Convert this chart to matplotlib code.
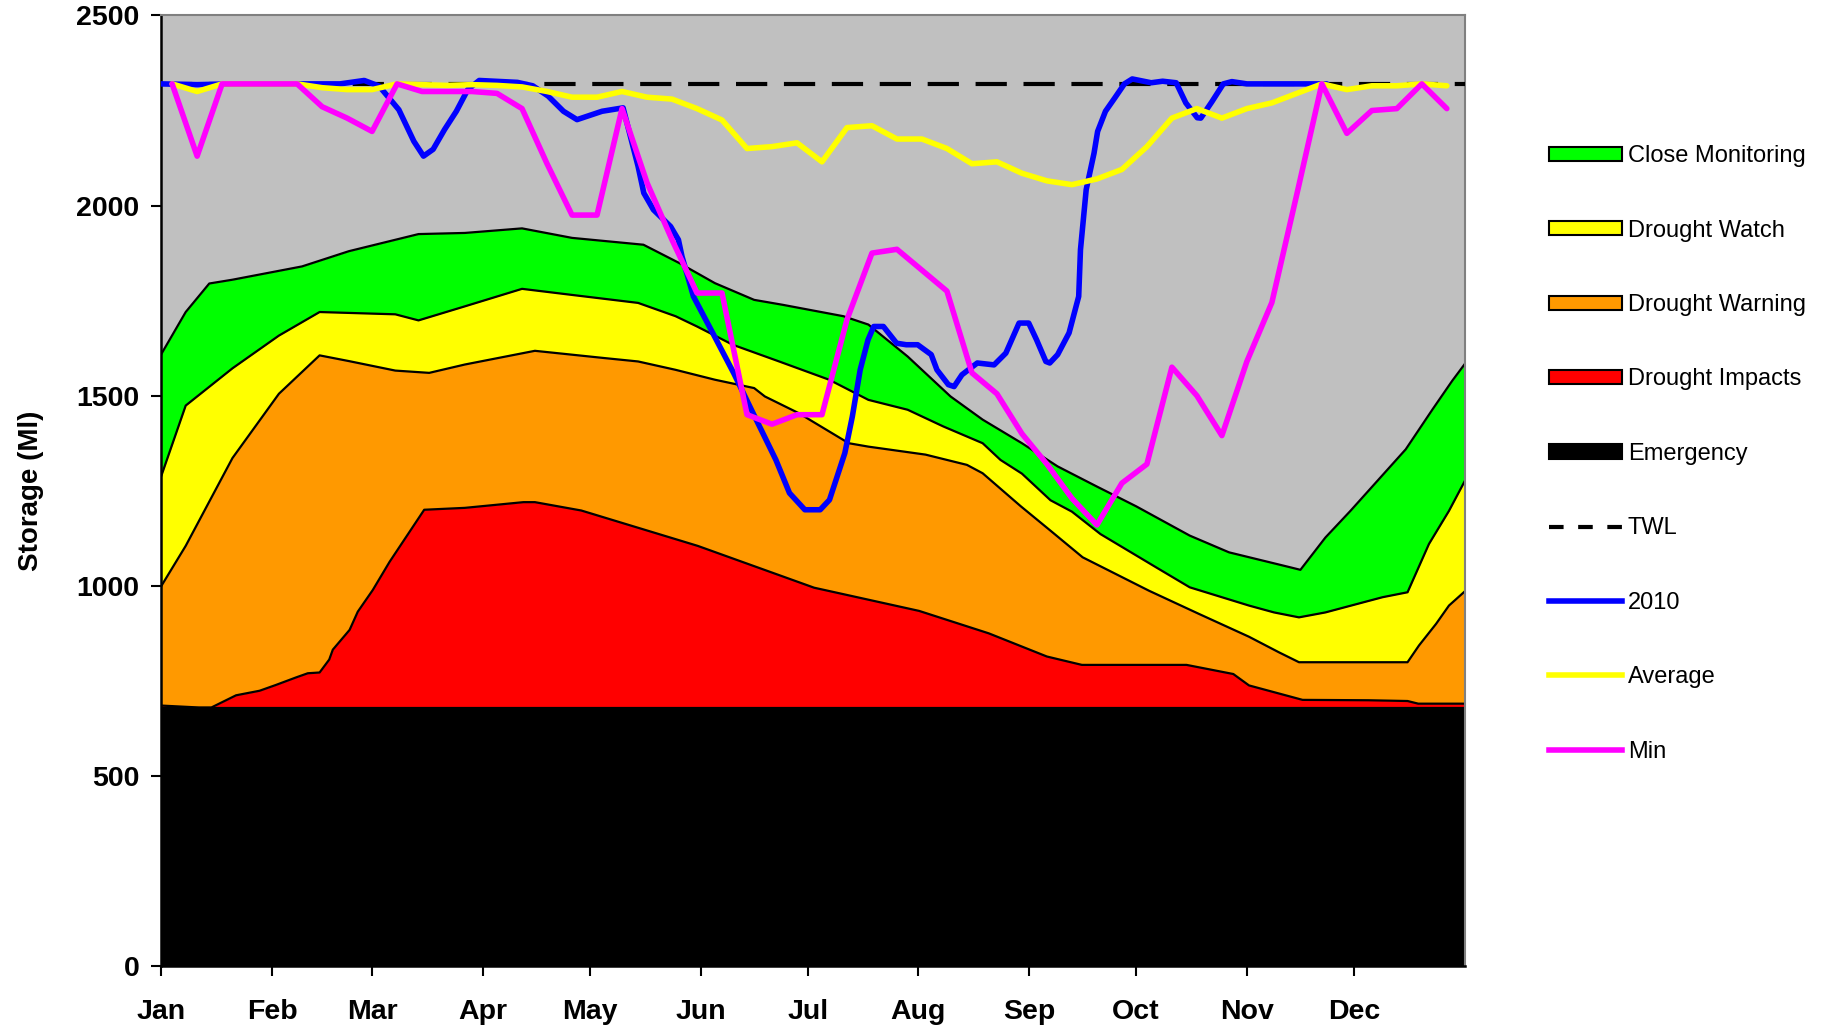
import numpy as np
import matplotlib
matplotlib.use("Agg")
import matplotlib.pyplot as plt
from matplotlib.patches import Patch
from matplotlib.lines import Line2D

plt.rcParams['font.family'] = ['Liberation Sans', 'DejaVu Sans']

# month axis
months = ["Jan", "Feb", "Mar", "Apr", "May", "Jun", "Jul", "Aug", "Sep", "Oct", "Nov", "Dec"]
month_start = [0, 31, 59, 90, 120, 151, 181, 212, 243, 273, 304, 334]

# control curves (upper edge of each band), day of year / Ml
cm_day = [0, 6.8, 13.4, 19.9, 39.4, 52.5, 65.5, 72, 85, 101, 115, 135, 145, 155, 166, 174,
          191, 198, 209, 221, 230, 241, 251, 262, 273, 288, 299, 316, 319, 326, 333, 348.5,
          356, 361.5, 365]
cm_top = [1610, 1720, 1795, 1805, 1840, 1880, 1910, 1925, 1928, 1940, 1915, 1897, 1849, 1796,
          1752, 1739, 1709, 1687, 1603, 1498, 1437, 1375, 1314, 1261, 1209, 1132, 1088, 1049,
          1042, 1127, 1197, 1359, 1464, 1539, 1583]

dw_day = [0, 6.8, 19.9, 32.9, 44.3, 65.5, 72, 85, 101, 115, 133.5, 144, 150, 160, 173, 187,
          198, 209, 219, 230, 235, 241, 249, 255, 263, 278.5, 288, 304.6, 311.6, 318.6, 326,
          342, 349, 355, 360.6, 365]
dw_top = [1290, 1474, 1572, 1658, 1720, 1714, 1698, 1735, 1781, 1765, 1744, 1709, 1682, 1634,
          1590, 1542, 1489, 1463, 1419, 1375, 1331, 1295, 1225, 1195, 1136, 1049, 996, 948,
          930, 917, 930, 970, 983, 1110, 1197, 1275]

dwr_day = [0, 6.8, 19.9, 32.9, 44.3, 52.5, 65.5, 75, 85, 104.6, 124, 133.5, 144, 155, 166,
           169, 178.5, 192.5, 198, 214, 225.6, 230, 240.7, 249, 258, 276.6, 290.6, 304.6, 313,
           318.6, 349, 352.2, 357, 360.6, 365]
dwr_top = [1000, 1105, 1336, 1505, 1606, 1591, 1566, 1560, 1582, 1618, 1599, 1590, 1568, 1542,
           1520, 1498, 1454, 1375, 1366, 1345, 1318, 1296, 1209, 1145, 1075, 987, 926, 866,
           825, 799, 799, 843, 900, 948, 985]

di_day = [0, 10.5, 14, 20.9, 27.5, 32, 37.7, 41, 44.3, 47, 48, 52.7, 55, 59.2, 63.9, 73.6, 85,
          101.4, 104.6, 117.6, 150.2, 182.8, 212.2, 231.7, 248, 257.8, 287.1, 300.2, 304.6,
          319.6, 338, 349, 352, 365]
di_top = [685, 680, 680, 712, 724, 739, 759, 770, 772, 806, 832, 884, 932, 989, 1063, 1200,
          1205, 1220, 1220, 1198, 1105, 995, 934, 875, 814, 792, 792, 768, 738, 700, 699, 697,
          690, 690]

em_day = [0, 365]
em_top = [678, 678]

twl_day = [0, 365]
twl = [2320, 2320]

# 2010 daily storage
y2010_day = [0, 10, 20, 40, 50, 56.8, 61, 66.5, 70.7, 73.4, 76.1, 79.3, 82.6, 85.8, 89, 99.7,
             104, 108.3, 112.6, 116.4, 123.4, 129.3, 133.5, 135.1, 137.8, 142.6, 144.8, 145.8,
             149, 154.9, 160.3, 165.7, 172.1, 175.9, 180.2, 184.5, 187.1, 191.4, 193.5, 195.7,
             197.9, 199.5, 202.2, 205.9, 208.6, 211.8, 215.6, 217.2, 220.4, 222, 224.2, 228.5,
             233.2, 236.5, 240.2, 242.9, 245.1, 247.7, 248.8, 251, 254.2, 256.9, 257.4, 259,
             261.2, 262.2, 264.4, 267, 269.7, 271.9, 277.2, 280.4, 284.2, 286.9, 290.1, 291.1,
             294.2, 297.4, 299.8, 304, 326.4]
y2010 = [2320, 2318, 2320, 2320, 2320, 2329, 2314, 2252, 2169, 2130, 2148, 2200, 2248, 2305,
         2329, 2324, 2315, 2288, 2248, 2226, 2248, 2257, 2103, 2033, 1989, 1945, 1910, 1866,
         1761, 1656, 1559, 1454, 1331, 1244, 1200, 1200, 1226, 1349, 1445, 1568, 1647, 1682,
         1682, 1638, 1634, 1634, 1608, 1568, 1529, 1524, 1555, 1586, 1581, 1612, 1691, 1691,
         1647, 1590, 1586, 1608, 1665, 1761, 1884, 2042, 2138, 2195, 2248, 2283, 2320, 2333,
         2323, 2327, 2323, 2270, 2231, 2230, 2273, 2320, 2326, 2320, 2320]

# weekly average and minimum
week_day = np.arange(52) * 7 + 3
avg = [2320, 2300, 2320, 2320, 2320, 2320, 2310, 2305, 2305, 2320, 2318, 2316, 2318, 2316,
       2312, 2300, 2285, 2285, 2300, 2285, 2280, 2255, 2225, 2150, 2155, 2165, 2115, 2205,
       2210, 2175, 2175, 2150, 2110, 2115, 2085, 2065, 2055, 2070, 2095, 2155, 2230, 2255,
       2230, 2255, 2270, 2295, 2320, 2305, 2315, 2315, 2320, 2315]
mn = [2320, 2130, 2320, 2320, 2320, 2320, 2260, 2230, 2195, 2320, 2300, 2300, 2300, 2295,
      2255, 2110, 1975, 1975, 2255, 2060, 1910, 1770, 1770, 1450, 1425, 1450, 1450, 1700,
      1875, 1885, 1830, 1775, 1560, 1505, 1400, 1320, 1230, 1160, 1270, 1320, 1575, 1500,
      1395, 1590, 1745, 2030, 2320, 2190, 2250, 2255, 2320, 2255]

fig = plt.figure(figsize=(18.24, 10.30), dpi=100)
ax = fig.add_axes([0.0885, 0.0621, 0.7145, 0.9229])
ax.set_facecolor('#c0c0c0')

bands = [(cm_day, cm_top, '#00ff00'), (dw_day, dw_top, '#ffff00'),
         (dwr_day, dwr_top, '#ff9900'), (di_day, di_top, '#ff0000'),
         (em_day, em_top, '#000000')]
for d, top, c in bands:
    ax.fill_between(d, 0, top, color=c, lw=0, zorder=1)
    ax.plot(d, top, color='black', lw=1.6, zorder=2)

ax.plot(twl_day, twl, color='black', lw=3, dashes=(7.5, 4), zorder=3)
ax.plot(y2010_day, y2010, color='#0000ff', lw=4, zorder=4, solid_capstyle='round')
ax.plot(week_day, avg, color='#ffff00', lw=4, zorder=5, solid_capstyle='round')
ax.plot(week_day, mn, color='#ff00ff', lw=4, zorder=6, solid_capstyle='round')

ax.set_xlim(0, 365)
ax.set_ylim(0, 2500)
ax.set_yticks([0, 500, 1000, 1500, 2000, 2500])
ax.set_xticks(month_start)
ax.set_xticklabels(months)
for lab in ax.get_xticklabels() + ax.get_yticklabels():
    lab.set_fontweight('bold')
    lab.set_fontsize(20.5)
ax.tick_params(axis='x', length=7, width=1.5, pad=17)
ax.tick_params(axis='y', length=7, width=1.5, pad=9)
ax.set_ylabel("Storage (Ml)", fontsize=20, fontweight='bold', labelpad=23)
for s in ['left', 'bottom']:
    ax.spines[s].set_linewidth(1.8)
for s in ['top', 'right']:
    ax.spines[s].set_color('#808080')
    ax.spines[s].set_linewidth(1.5)

handles = [
    Patch(facecolor='#00ff00', edgecolor='black', lw=1.5),
    Patch(facecolor='#ffff00', edgecolor='black', lw=1.5),
    Patch(facecolor='#ff9900', edgecolor='black', lw=1.5),
    Patch(facecolor='#ff0000', edgecolor='black', lw=1.5),
    Patch(facecolor='#000000', edgecolor='black', lw=1.5),
    Line2D([], [], color='black', lw=3, dashes=(3.5, 3.5)),
    Line2D([], [], color='#0000ff', lw=4),
    Line2D([], [], color='#ffff00', lw=4),
    Line2D([], [], color='#ff00ff', lw=4),
]
labels = ["Close Monitoring", "Drought Watch", "Drought Warning", "Drought Impacts",
          "Emergency", "TWL", "2010", "Average", "Min"]
fig.legend(handles, labels, loc='upper left', bbox_to_anchor=(0.849, 0.859),
           frameon=False, fontsize=17, handlelength=3.1, handleheight=0.55,
           handletextpad=0.25, labelspacing=2.22, borderpad=0, borderaxespad=0)

fig.savefig("out.png", dpi=100)
